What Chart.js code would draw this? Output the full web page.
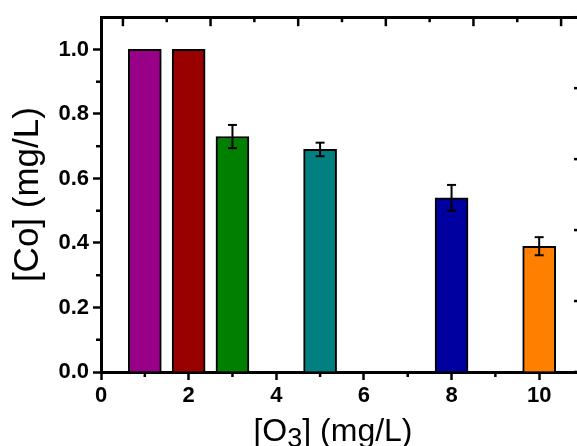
<!DOCTYPE html>
<html>
<head>
<meta charset="utf-8">
<script src="https://cdn.jsdelivr.net/npm/chart.js@4.4.1/dist/chart.umd.min.js"></script>
<style>
  html, body { margin: 0; padding: 0; background: #fff; overflow: hidden; }
  canvas { display: block; }
</style>
</head>
<body>
<canvas id="chart" width="592" height="446"></canvas>
<script>
// data
const o3Doses = [1, 2, 3, 5, 8, 10];
const coValues = [1.0, 1.0, 0.73, 0.69, 0.54, 0.39];
const coErrors = [0, 0, 0.036, 0.021, 0.04, 0.028];
const barColors = ['#990088', '#990000', '#007f00', '#008080', '#0000a0', '#ff8000'];
const yTickValues = [0, 0.2, 0.4, 0.6, 0.8, 1.0];
const xTickValues = [0, 2, 4, 6, 8, 10];
const yTitle = '[Co] (mg/L)';
const xTitleParts = ['[O', '3', '] (mg/L)'];

const FONT = "'Liberation Sans', Arial, sans-serif";

function line(ctx, x1, y1, x2, y2) {
  ctx.beginPath();
  ctx.moveTo(x1, y1);
  ctx.lineTo(x2, y2);
  ctx.stroke();
}

// minor ticks + inward ticks on the top/right frame
const frameTicks = {
  id: 'frameTicks',
  afterDraw(chart) {
    const { ctx } = chart;
    const { x, y, x2, y2 } = chart.scales;
    ctx.save();
    ctx.strokeStyle = '#000';
    ctx.lineWidth = 2.5;
    for (let k = 1; k <= 9; k += 2) {
      const py = y.getPixelForValue(k / 10);
      line(ctx, y.right - 5, py, y.right, py);
    }
    for (let k = 1; k <= 9; k += 2) {
      const px = x.getPixelForValue(k);
      line(ctx, px, x.top, px, x.top + 5);
    }
    for (let k = 0; k <= 10; k++) {
      const len = k % 2 ? 5 : 9;
      const px = x2.getPixelForValue(k / 2);
      line(ctx, px, x2.bottom, px, x2.bottom + len);
      const py = y2.getPixelForValue(k / 2);
      line(ctx, y2.left - len, py, y2.left, py);
    }
    ctx.restore();
  }
};

const errorBars = {
  id: 'errorBars',
  afterDatasetsDraw(chart) {
    const { ctx } = chart;
    const { x, y } = chart.scales;
    ctx.save();
    ctx.strokeStyle = '#000';
    ctx.lineWidth = 2;
    o3Doses.forEach((d, i) => {
      const e = coErrors[i];
      if (!e) return;
      const px = x.getPixelForValue(d);
      const top = y.getPixelForValue(coValues[i] + e);
      const bot = y.getPixelForValue(coValues[i] - e);
      line(ctx, px, top, px, bot);
      line(ctx, px - 4.5, top, px + 4.5, top);
      line(ctx, px - 4.5, bot, px + 4.5, bot);
    });
    ctx.restore();
  }
};

// x title with a subscript 3
const xTitle = {
  id: 'xTitle',
  afterDraw(chart) {
    const { ctx, chartArea } = chart;
    const big = '32px ' + FONT;
    const small = '27px ' + FONT;
    ctx.save();
    ctx.fillStyle = '#000';
    ctx.textBaseline = 'alphabetic';
    ctx.font = big;
    const w0 = ctx.measureText(xTitleParts[0]).width;
    const w2 = ctx.measureText(xTitleParts[2]).width;
    ctx.font = small;
    const w1 = ctx.measureText(xTitleParts[1]).width;
    let cx = (chartArea.left + chartArea.right) / 2 - 9 - (w0 + w1 + w2) / 2;
    const base = 441;
    ctx.font = big;
    ctx.fillText(xTitleParts[0], cx, base);
    cx += w0;
    ctx.font = small;
    ctx.fillText(xTitleParts[1], cx, base + 6);
    cx += w1;
    ctx.font = big;
    ctx.fillText(xTitleParts[2], cx, base);
    ctx.restore();
  }
};

const tickFont = { family: FONT, size: 22, weight: 'bold' };

new Chart(document.getElementById('chart'), {
  type: 'bar',
  data: {
    datasets: [{
      data: o3Doses.map((d, i) => ({ x: d, y: coValues[i] })),
      backgroundColor: barColors,
      borderColor: '#000',
      borderWidth: 2,
      barThickness: 33,
    }],
  },
  options: {
    responsive: false,
    animation: false,
    layout: { padding: 0 },
    plugins: {
      legend: { display: false },
      tooltip: { enabled: false },
    },
    scales: {
      x: {
        type: 'linear',
        position: 'bottom',
        min: 0,
        max: 11,
        offset: false,
        afterBuildTicks: s => { s.ticks = xTickValues.map(value => ({ value })); },
        afterFit: s => { s.height = 74; },
        grid: { display: true, offset: false, drawOnChartArea: false, tickLength: 8, tickWidth: 2.5, tickColor: '#000' },
        border: { display: true, color: '#000', width: 3 },
        ticks: { color: '#000', font: tickFont, padding: 3, maxRotation: 0, callback: v => String(v) },
      },
      y: {
        position: 'left',
        min: 0,
        max: 1.1,
        afterBuildTicks: s => { s.ticks = yTickValues.map(value => ({ value })); },
        afterFit: s => { s.width = 101; },
        grid: { display: true, drawOnChartArea: false, tickLength: 8, tickWidth: 2.5, tickColor: '#000' },
        border: { display: true, color: '#000', width: 3 },
        ticks: { color: '#000', font: tickFont, padding: 4, callback: v => v.toFixed(1) },
        title: {
          display: true,
          text: yTitle,
          color: '#000',
          font: { family: FONT, size: 35 },
          padding: { top: 7, bottom: 0 },
        },
      },
      x2: {
        type: 'linear',
        position: 'top',
        min: 0,
        max: 5,
        afterFit: s => { s.height = 17; },
        grid: { display: false },
        border: { display: true, color: '#000', width: 3 },
        ticks: { display: false },
      },
      y2: {
        type: 'linear',
        position: 'right',
        min: 0,
        max: 5,
        afterFit: s => { s.width = 9; },
        grid: { display: false },
        border: { display: true, color: '#000', width: 3 },
        ticks: { display: false },
      },
    },
  },
  plugins: [errorBars, frameTicks, xTitle],
});
</script>
</body>
</html>
